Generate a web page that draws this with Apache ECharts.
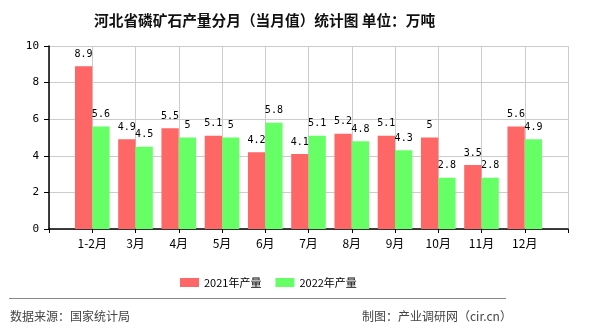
<!DOCTYPE html>
<html>
<head>
<meta charset="utf-8">
<script src="https://cdn.jsdelivr.net/npm/echarts@6/dist/echarts.min.js"></script>
<style>html,body{margin:0;padding:0;background:#fff;}#c{width:590px;height:330px;}</style>
</head>
<body>
<div id="c"></div>
<script>
var months = ['1-2月', '3月', '4月', '5月', '6月', '7月', '8月', '9月', '10月', '11月', '12月'];
var values2021 = [8.9, 4.9, 5.5, 5.1, 4.2, 4.1, 5.2, 5.1, 5, 3.5, 5.6];
var values2022 = [5.6, 4.5, 5, 5, 5.8, 5.1, 4.8, 4.3, 2.8, 2.8, 4.9];
var yTicks = [0, 2, 4, 6, 8, 10];

var cats = [''].concat(months).concat(['']);
function pad(a) { return ['-'].concat(a).concat(['-']); }

var chart = echarts.init(document.getElementById('c'), null, {renderer: 'canvas'});
var labelStyle = {
  show: true, position: 'top', distance: 7,
  fontFamily: 'DejaVu Sans Mono', fontSize: 10, color: '#000'
};
chart.setOption({
  animation: false,
  backgroundColor: '#fff',
  title: {
    text: '河北省磷矿石产量分月（当月值）统计图 单位：万吨',
    left: 89, top: 8,
    textStyle: {fontFamily: 'Noto Sans CJK SC', fontSize: 14.7, fontWeight: 'bold', color: '#111'}
  },
  legend: {
    data: ['2021年产量', '2022年产量'],
    left: 175, top: 272, icon: 'rect',
    itemWidth: 19, itemHeight: 9, itemGap: 14,
    textStyle: {fontFamily: 'Noto Sans CJK SC', fontSize: 11, color: '#000'}
  },
  grid: {left: 49, right: 22, top: 46, bottom: 101},
  xAxis: {
    type: 'category', data: cats, boundaryGap: false,
    axisLine: {lineStyle: {color: '#000', width: 1.5}},
    axisTick: {show: true, length: 4, lineStyle: {color: '#000'}},
    axisLabel: {margin: 8, fontFamily: 'Noto Sans CJK SC', fontSize: 12, color: '#000', interval: 0},
    splitLine: {show: true, lineStyle: {color: '#ccc'}}
  },
  yAxis: {
    type: 'value', min: yTicks[0], max: yTicks[yTicks.length - 1], interval: 2,
    axisLine: {show: true, lineStyle: {color: '#000', width: 1.5}},
    axisTick: {show: true, length: 5, lineStyle: {color: '#000'}},
    axisLabel: {margin: 10, fontFamily: 'DejaVu Sans Mono', fontSize: 11, color: '#000'},
    splitLine: {show: true, lineStyle: {color: '#ccc'}}
  },
  series: [
    {name: '2021年产量', type: 'bar', data: pad(values2021), barWidth: '40%', barGap: '0%',
     itemStyle: {color: '#ff6666'}, label: labelStyle},
    {name: '2022年产量', type: 'bar', data: pad(values2022), barWidth: '40%', barGap: '0%',
     itemStyle: {color: '#66ff66'}, label: labelStyle}
  ],
  graphic: [
    {type: 'line', shape: {x1: 9, y1: 298.5, x2: 506, y2: 298.5}, style: {stroke: '#888', lineWidth: 1}},
    {type: 'text', left: 10, top: 310, style: {text: '数据来源：国家统计局', fontFamily: 'Noto Sans CJK SC', fontSize: 12, fill: '#444'}},
    {type: 'text', left: 362, top: 310, style: {text: '制图：产业调研网（cir.cn）', fontFamily: 'Noto Sans CJK SC', fontSize: 12, fill: '#444'}}
  ]
});
</script>
</body>
</html>
